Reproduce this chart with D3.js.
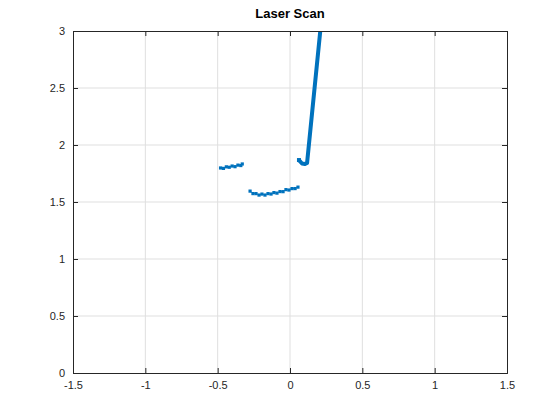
<!DOCTYPE html>
<html>
<head>
<meta charset="utf-8">
<script src="https://cdn.jsdelivr.net/npm/d3@7"></script>
<style>
body{margin:0;background:#fff;}
text{font-family:"Liberation Sans",Arial,Helvetica,sans-serif;}
</style>
</head>
<body>
<svg id="chart" width="560" height="420"></svg>
<script>
// scan clusters (x, y in metres)
var cluster1_x = [-0.48,-0.46,-0.44,-0.42,-0.40,-0.38,-0.36,-0.34,-0.33]
var cluster1_y = [1.795,1.80,1.805,1.81,1.812,1.815,1.82,1.825,1.83]

var cluster2_x = [-0.276,-0.256,-0.235,-0.214,-0.194,-0.173,-0.152,-0.131,-0.111,-0.090,-0.069,-0.048,-0.028,-0.007,0.014,0.035,0.055]
var cluster2_y = [1.592,1.579,1.570,1.566,1.566,1.566,1.570,1.575,1.579,1.583,1.588,1.596,1.605,1.610,1.614,1.623,1.627]

var cluster3_x = [0.062,0.083,0.104,0.118,0.225]
var cluster3_y = [1.868,1.838,1.833,1.842,3.2]

var x_ticks = [-1.5,-1,-0.5,0,0.5,1,1.5]
var y_ticks = [0,0.5,1,1.5,2,2.5,3]

var margin = {left:73, top:31, right:53, bottom:47}
var width = 560 - margin.left - margin.right
var height = 420 - margin.top - margin.bottom
var blue = "#0072BD"

var svg = d3.select("#chart")
var chart = svg.append("g").attr("transform","translate("+margin.left+","+margin.top+")")

var x = d3.scaleLinear().domain([-1.5,1.5]).range([0,width])
var y = d3.scaleLinear().domain([0,3]).range([height,0])

// grid
chart.append("g").selectAll("line").data(x_ticks.slice(1,-1))
	.enter().append("line")
	.attr("x1",function(d){return x(d)}).attr("x2",function(d){return x(d)})
	.attr("y1",0).attr("y2",height)
	.attr("stroke","#dfdfdf").attr("stroke-width",1)
chart.append("g").selectAll("line").data(y_ticks.slice(1,-1))
	.enter().append("line")
	.attr("y1",function(d){return y(d)}).attr("y2",function(d){return y(d)})
	.attr("x1",0).attr("x2",width)
	.attr("stroke","#dfdfdf").attr("stroke-width",1)

// data
chart.append("clipPath").attr("id","clip").append("rect")
	.attr("width",width).attr("height",height)
var plot = chart.append("g").attr("clip-path","url(#clip)")

function pts(xs, ys){ return xs.map(function(d,i){ return [d, ys[i]] }) }
var line = d3.line().x(function(d){return x(d[0])}).y(function(d){return y(d[1])})

var small = [pts(cluster1_x,cluster1_y), pts(cluster2_x,cluster2_y)]
small.forEach(function(c){
	plot.append("path").datum(c).attr("d",line)
		.attr("fill","none").attr("stroke",blue).attr("stroke-width",1).attr("opacity",0.8)
	plot.selectAll(null).data(c).enter().append("rect")
		.attr("x",function(d){return x(d[0])-1.6})
		.attr("y",function(d,i){return y(d[1])-1.6 + (i%2 ? 0.6 : -0.4)})
		.attr("width",3.2).attr("height",3.2)
		.attr("fill",blue)
})
var c3 = pts(cluster3_x,cluster3_y)
plot.append("path").datum(c3).attr("d",line)
	.attr("fill","none").attr("stroke",blue).attr("stroke-width",4)
	.attr("stroke-linejoin","round")
plot.append("rect").attr("x",x(c3[0][0])-2).attr("y",y(c3[0][1])-2)
	.attr("width",4).attr("height",4).attr("fill",blue)

// axes
var axcol = "#262626"
var fmt = function(d){ return String(d) }
var xb = d3.axisBottom(x).tickValues(x_ticks).tickSize(-5).tickPadding(8).tickFormat(fmt),
	xt = d3.axisTop(x).tickValues(x_ticks).tickSize(-5).tickFormat(""),
	yl = d3.axisLeft(y).tickValues(y_ticks).tickSize(-5).tickPadding(8).tickFormat(fmt),
	yr = d3.axisRight(y).tickValues(y_ticks).tickSize(-5).tickFormat("")
var gs = [
	chart.append("g").attr("transform","translate(0,"+height+")").call(xb),
	chart.append("g").call(xt),
	chart.append("g").call(yl),
	chart.append("g").attr("transform","translate("+width+",0)").call(yr)
]
gs.forEach(function(g){
	g.select(".domain").attr("stroke",axcol)
	g.selectAll(".tick line").attr("stroke",axcol)
	g.selectAll("text").attr("fill",axcol).style("font-size","11px")
})

svg.append("text")
	.attr("x",margin.left+width/2).attr("y",18)
	.attr("text-anchor","middle")
	.style("font-size","13px").style("font-weight","bold")
	.attr("fill","#000")
	.text("Laser Scan")
</script>
</body>
</html>
